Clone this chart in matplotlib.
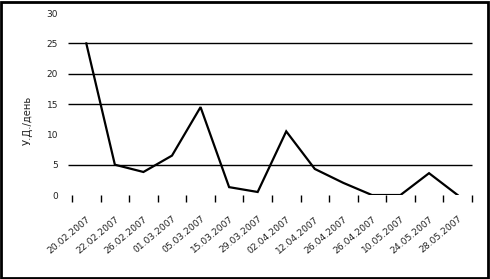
import numpy as np
import matplotlib
matplotlib.use("Agg")
import matplotlib.pyplot as plt
from matplotlib.patches import Rectangle

# data
dates = ["20.02.2007", "22.02.2007", "26.02.2007", "01.03.2007", "05.03.2007",
         "15.03.2007", "29.03.2007", "02.04.2007", "12.04.2007", "26.04.2007",
         "26.04.2007", "10.05.2007", "24.05.2007", "28.05.2007"]
values = [25, 5, 3.8, 6.5, 14.5, 1.3, 0.5, 10.5, 4.3, 2, 0, 0, 3.6, 0]
y_ticks = [0, 5, 10, 15, 20, 25, 30]
grid_levels = [5, 15, 20, 25]  # the 10 line does not show in the original
y_label = "У.Д./день"

fig = plt.figure(figsize=(4.9, 2.79), dpi=100)
ax = fig.add_axes([0.147, 0.301, 0.816, 0.652])

x = np.arange(len(values))
ax.plot(x, values, color="black", lw=1.6, solid_joinstyle="miter", zorder=3)

ax.set_xlim(-0.5, len(values) - 0.5)
ax.set_ylim(0, 30)

# horizontal gridlines, starting a little left of the plot area
ax.hlines(grid_levels, -0.65, len(values) - 0.5, colors="black", lw=1.0,
          clip_on=False, zorder=2)

for s in ax.spines.values():
    s.set_visible(False)

ax.set_yticks(y_ticks)
ax.set_yticklabels([str(v) for v in y_ticks], fontsize=6.5, color="#222222")
ax.tick_params(axis="y", length=0, pad=10)

# category labels at centres, tick marks between categories
ax.set_xticks(x)
ax.set_xticklabels(dates, rotation=40, ha="right", rotation_mode="anchor",
                   fontsize=6.6, color="#222222")
ax.tick_params(axis="x", which="major", length=0, pad=14)
ax.set_xticks(np.arange(-0.5, len(values)), minor=True)
ax.tick_params(axis="x", which="minor", length=5, width=1.0, color="black",
               direction="out")

ax.set_ylabel(y_label, fontsize=7.2, color="#222222")
ax.yaxis.set_label_coords(-0.098, 0.41)

# frame around the whole picture
fig.patches.append(Rectangle((0.002, 0.004), 0.994, 0.99, transform=fig.transFigure,
                             fill=False, edgecolor="black", lw=2))

fig.savefig("out.png", dpi=100)
